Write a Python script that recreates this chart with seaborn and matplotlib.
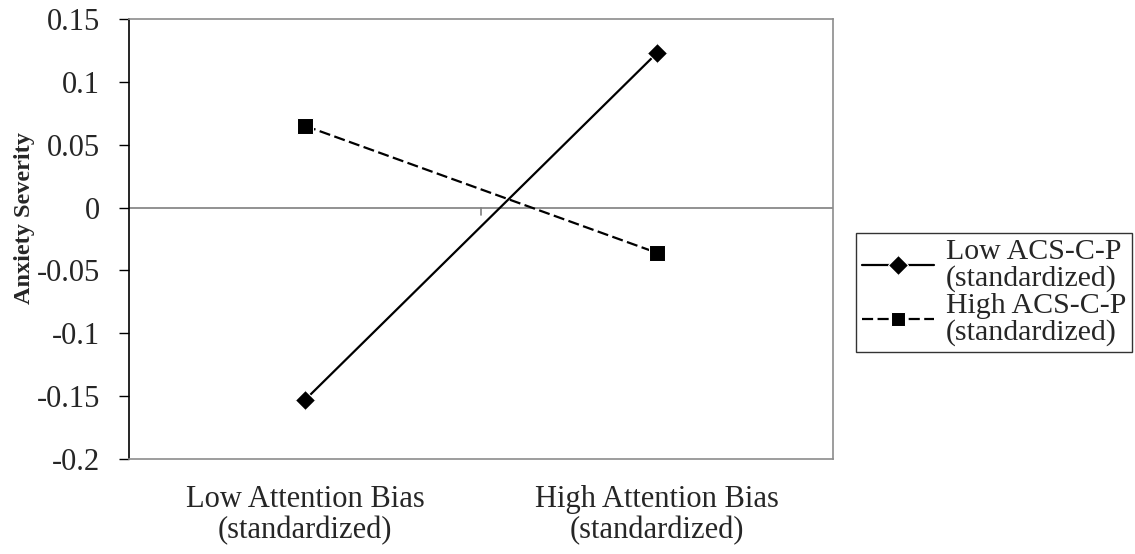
import numpy as np
import pandas as pd
import matplotlib
matplotlib.use("Agg")
import matplotlib.pyplot as plt
import seaborn as sns

# data
attention = ["Low Attention Bias\n(standardized)", "High Attention Bias\n(standardized)"]
groups = ["Low ACS-C-P\n(standardized)", "High ACS-C-P\n(standardized)"]
low_acs = [-0.153, 0.123]
high_acs = [0.065, -0.036]
y_ticks = [-0.2, -0.15, -0.1, -0.05, 0, 0.05, 0.1, 0.15]
y_tick_labels = ["-0.2", "-0.15", "-0.1", "-0.05", "0", "0.05", "0.1", "0.15"]

df = pd.DataFrame({
    "attention": attention * 2,
    "group": [groups[0]] * 2 + [groups[1]] * 2,
    "severity": low_acs + high_acs,
})

FS = 22

sns.set_style("white")
plt.rcParams["font.family"] = ["Liberation Serif", "DejaVu Serif"]

fig = plt.figure(figsize=(11.35, 5.54), dpi=100)
ax = fig.add_axes([0.1137, 0.1715, 0.6202, 0.7942])

sns.lineplot(data=df, x="attention", y="severity", hue="group", style="group",
             hue_order=groups, style_order=groups,
             palette=["black", "black"],
             markers={groups[0]: "D", groups[1]: "s"},
             dashes={groups[0]: "", groups[1]: (5, 2)},
             markersize=10, linewidth=1.6, ax=ax, legend=True, sort=False)

# square marker a bit bigger than the diamond
ax.lines[1].set_markersize(11.5)

ax.set_xlim(-0.5, 1.5)
ax.set_ylim(-0.2, 0.15)
ax.set_yticks(y_ticks)
ax.set_yticklabels(y_tick_labels, fontsize=FS)
ax.tick_params(axis="y", direction="out", length=7, width=1, color="black", left=True, pad=14)
ax.tick_params(axis="x", length=0, labelsize=FS, pad=19)
for t in ax.get_xticklabels():
    t.set_linespacing(1.05)

for side in ["top", "right", "bottom"]:
    ax.spines[side].set_color("#8c8c8c")
    ax.spines[side].set_linewidth(1.2)
ax.spines["left"].set_color("black")
ax.spines["left"].set_linewidth(1.2)

# category axis drawn at zero, with the boundary tick between categories
ax.axhline(0, color="#7f7f7f", linewidth=1.2, zorder=1)
ax.plot([0.5, 0.5], [0, -0.006], color="#7f7f7f", linewidth=1.2, zorder=1)

ax.set_xlabel("")
ax.set_ylabel("Anxiety Severity", fontsize=17.5, fontweight="bold")
ax.yaxis.set_label_coords(35 / 1135, 1 - 218 / 554, transform=fig.transFigure)

leg = ax.legend(loc="upper left", bbox_to_anchor=(856 / 1135, 1 - 233 / 554),
                bbox_transform=fig.transFigure, fontsize=21.5,
                frameon=True, fancybox=False, edgecolor="black", handlelength=2.4,
                handletextpad=0.4, borderpad=0.2, labelspacing=0.05, borderaxespad=0)
leg.get_frame().set_linewidth(1.0)
for t in leg.get_texts():
    t.set_linespacing(1.0)

fig.savefig("out.png", dpi=100)
